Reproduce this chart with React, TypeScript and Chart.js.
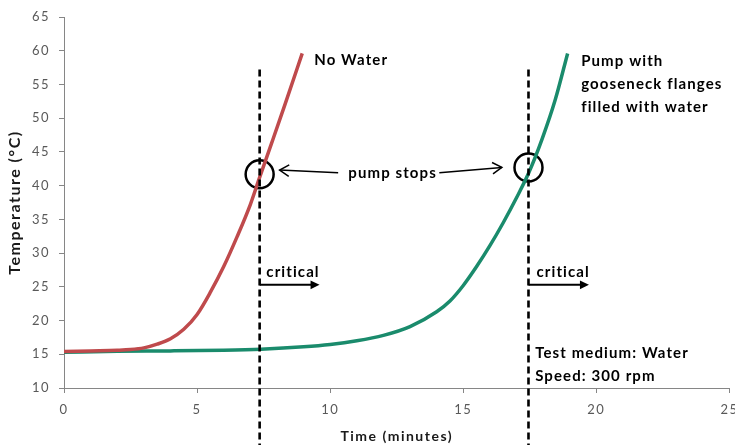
import React, { useEffect, useRef } from "react";
import { Chart, registerables } from "chart.js";

Chart.register(...registerables);

// Time (minutes) and temperature (°C) for the two tests
const noWaterTime = [0, 1, 2, 2.5, 3.0, 3.5, 4.0, 4.5, 5.0, 5.5, 6.0, 6.5, 7.0, 7.33, 7.8, 8.3, 8.95];
const noWaterTemp = [15.4, 15.5, 15.6, 15.7, 15.95, 16.5, 17.3, 18.7, 20.9, 24.2, 28.0, 32.4, 37.2, 41.0, 46.3, 52.0, 59.6];

const waterTime = [0, 2, 4, 6, 7.4, 9, 10, 11, 12, 13, 14, 14.5, 15, 15.5, 16, 16.5, 17, 17.46, 17.96, 18.46, 18.92];
const waterTemp = [15.3, 15.45, 15.5, 15.6, 15.75, 16.1, 16.45, 17.0, 17.8, 19.1, 21.3, 22.9, 25.2, 28.0, 31.1, 34.5, 38.2, 41.9, 46.9, 52.8, 59.6];

// "pump stops" markers
const stopTime = [7.35, 17.45];
const stopTemp = [41.7, 42.7];

// critical time lines
const criticalTime = [7.35, 17.45];
const criticalTopTemp = 57.2;

const xTicks = [0, 5, 10, 15, 20, 25];
const yTicks = [10, 15, 20, 25, 30, 35, 40, 45, 50, 55, 60, 65];

const FONT = "Lato";

function arrowHead(ctx: CanvasRenderingContext2D, x1: number, y1: number, x2: number, y2: number, size: number, filled: boolean) {
  const a = Math.atan2(y2 - y1, x2 - x1);
  const s = filled ? 0.45 : 0.55;
  ctx.beginPath();
  ctx.moveTo(x2 - size * Math.cos(a - s), y2 - size * Math.sin(a - s));
  ctx.lineTo(x2, y2);
  ctx.lineTo(x2 - size * Math.cos(a + s), y2 - size * Math.sin(a + s));
  if (filled) {
    ctx.closePath();
    ctx.fill();
  } else {
    ctx.stroke();
  }
}

const spacing = {
  id: "spacing",
  beforeDraw(chart: any) {
    (chart.ctx as any).letterSpacing = "1.5px";
  },
};

const annotations = {
  id: "annotations",
  afterDatasetsDraw(chart: any) {
    const { ctx } = chart;
    const xs = chart.scales.x;
    const ys = chart.scales.y;
    const px = (v: number) => xs.getPixelForValue(v);
    const py = (v: number) => ys.getPixelForValue(v);
    ctx.save();

    // dashed critical lines
    ctx.strokeStyle = "#000";
    ctx.lineWidth = 2.6;
    ctx.setLineDash([7, 4]);
    criticalTime.forEach((t) => {
      ctx.beginPath();
      ctx.moveTo(px(t), py(criticalTopTemp));
      ctx.lineTo(px(t), chart.height);
      ctx.stroke();
    });
    ctx.setLineDash([]);

    // critical arrows
    ctx.fillStyle = "#000";
    ctx.lineWidth = 2;
    const critEnd = [9.6, 19.72];
    criticalTime.forEach((t, i) => {
      const y = py(25.3);
      ctx.beginPath();
      ctx.moveTo(px(t), y);
      ctx.lineTo(px(critEnd[i]) - 4, y);
      ctx.stroke();
      arrowHead(ctx, px(t), y, px(critEnd[i]), y, 10, true);
    });

    // pump stops arrows
    ctx.lineWidth = 1.5;
    const lx1 = px(10.3), ly1 = py(41.9);
    const lx2 = px(8.1), ly2 = py(42.3);
    ctx.beginPath();
    ctx.moveTo(lx1, ly1);
    ctx.lineTo(lx2, ly2);
    ctx.stroke();
    arrowHead(ctx, lx1, ly1, lx2, ly2, 11, false);
    const rx1 = px(14.1), ry1 = py(41.9);
    const rx2 = px(16.45), ry2 = py(42.7);
    ctx.beginPath();
    ctx.moveTo(rx1, ry1);
    ctx.lineTo(rx2, ry2);
    ctx.stroke();
    arrowHead(ctx, rx1, ry1, rx2, ry2, 11, false);

    // texts
    ctx.fillStyle = "#000";
    ctx.textBaseline = "middle";
    ctx.textAlign = "left";
    ctx.font = `bold 15px ${FONT}`;
    ctx.letterSpacing = "1.1px";
    ctx.fillText("No Water", px(9.4), py(58.6));
    ctx.fillText("Pump with", px(19.43), py(58.5));
    ctx.fillText("gooseneck flanges", px(19.43), py(55.1));
    ctx.fillText("filled with water", px(19.43), py(51.7));
    ctx.fillText("pump stops", px(10.68), py(41.9));
    ctx.fillText("critical", px(7.6), py(27.2));
    ctx.fillText("critical", px(17.75), py(27.2));
    ctx.fillText("Test medium: Water", px(17.7), py(15.2));
    ctx.fillText("Speed: 300 rpm", px(17.7), py(11.8));
    ctx.restore();
  },
};

export default function App() {
  const ref = useRef<HTMLCanvasElement>(null);
  useEffect(() => {
    if (!ref.current) return;
    const chart = new Chart(ref.current, {
      type: "scatter",
      data: {
        datasets: [
          {
            label: "No Water",
            data: noWaterTime.map((t, i) => ({ x: t, y: noWaterTemp[i] })),
            showLine: true,
            borderColor: "#bf4a4c",
            borderWidth: 3.5,
            pointRadius: 0,
            cubicInterpolationMode: "monotone",
            fill: false,
          },
          {
            label: "Pump with gooseneck flanges filled with water",
            data: waterTime.map((t, i) => ({ x: t, y: waterTemp[i] })),
            showLine: true,
            borderColor: "#1a8b6c",
            borderWidth: 3.5,
            pointRadius: 0,
            cubicInterpolationMode: "monotone",
            fill: false,
          },
          {
            label: "pump stops",
            data: stopTime.map((t, i) => ({ x: t, y: stopTemp[i] })),
            showLine: false,
            pointRadius: 14,
            pointBorderColor: "#000",
            pointBackgroundColor: "rgba(0,0,0,0)",
            pointBorderWidth: 2.5,
          },
        ],
      },
      options: {
        animation: false,
        responsive: true,
        maintainAspectRatio: false,
        layout: { padding: { top: 17, right: 0, left: 0, bottom: 0 } },
        plugins: { legend: { display: false }, tooltip: { enabled: false } },
        scales: {
          x: {
            type: "linear",
            min: 0,
            max: 25,
            afterBuildTicks: (s: any) => {
              s.ticks = xTicks.map((v) => ({ value: v }));
            },
            afterFit: (s: any) => {
              s.height = 57;
            },
            ticks: { color: "#595959", font: { family: FONT, size: 13 }, padding: 9 },
            grid: { drawOnChartArea: false, drawTicks: true, tickLength: 5, color: "#868686" },
            border: { color: "#868686", width: 1 },
            title: {
              display: true,
              text: "Time (minutes)",
              color: "#1a1a1a",
              font: { family: FONT, size: 14, weight: "bold" },
              padding: { top: 0, bottom: 0 },
            },
          },
          y: {
            type: "linear",
            min: 10,
            max: 65,
            afterBuildTicks: (s: any) => {
              s.ticks = yTicks.map((v) => ({ value: v }));
            },
            afterFit: (s: any) => {
              s.width = 64;
            },
            ticks: { color: "#595959", font: { family: FONT, size: 13 }, padding: 9 },
            grid: { drawOnChartArea: false, drawTicks: true, tickLength: 5, color: "#868686" },
            border: { color: "#868686", width: 1 },
            title: {
              display: true,
              text: "Temperature (°C)",
              color: "#1a1a1a",
              font: { family: FONT, size: 16, weight: "bold" },
              padding: { top: 5, bottom: 0 },
            },
          },
        },
      },
      plugins: [spacing, annotations],
    });
    return () => chart.destroy();
  }, []);
  return (
    <div style={{ position: "absolute", left: 0, top: 0, width: 735, height: 445, overflow: "hidden", background: "#fff" }}>
      <div style={{ position: "relative", width: 746, height: 445 }}>
        <canvas ref={ref} />
      </div>
    </div>
  );
}
